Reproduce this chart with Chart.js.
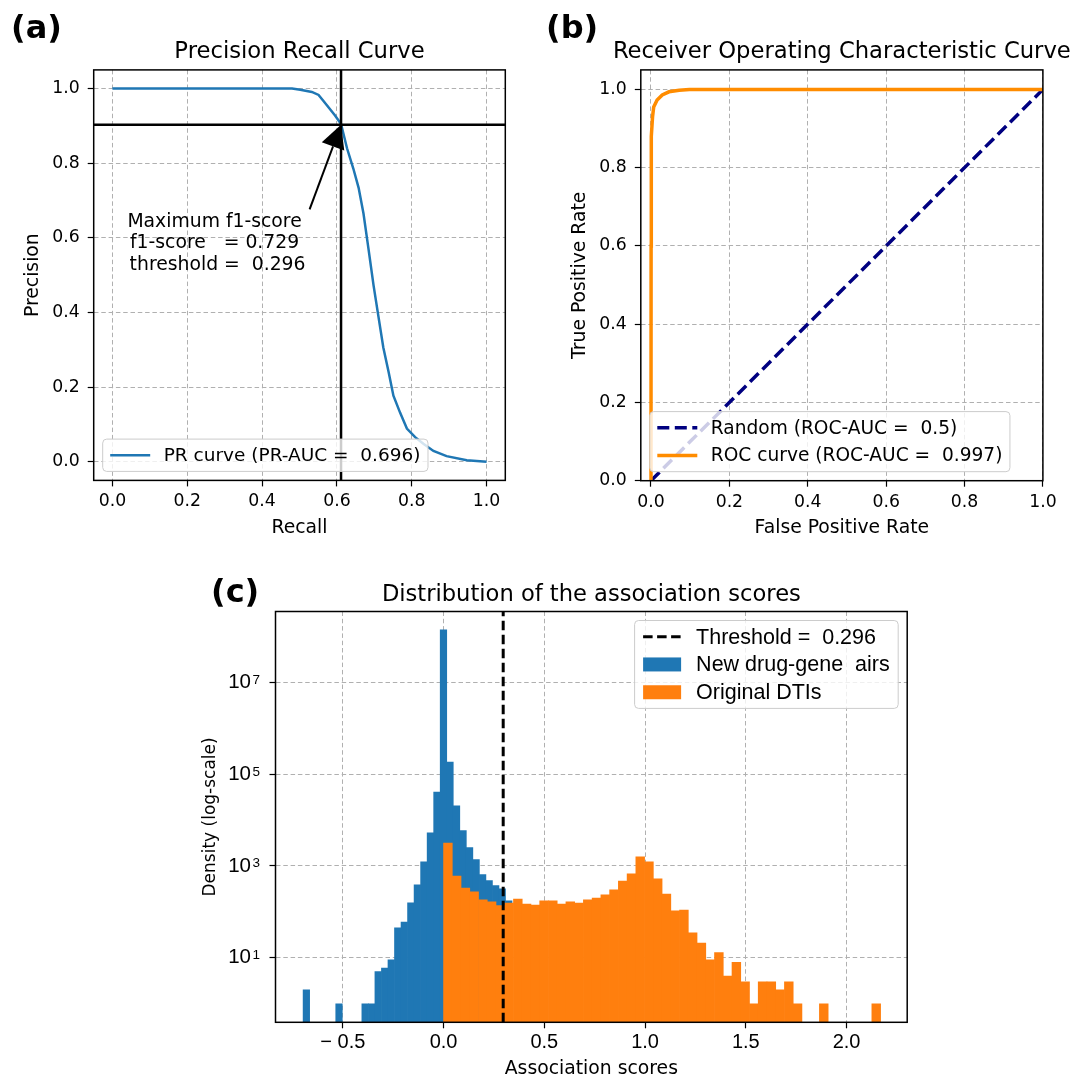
<!DOCTYPE html>
<html>
<head>
<meta charset="utf-8">
<script src="https://cdn.jsdelivr.net/npm/chart.js@4/dist/chart.umd.min.js"></script>
<style>
  html, body { margin: 0; padding: 0; background: #fff; overflow: hidden; width: 1072px; height: 1077px; }
  canvas { position: absolute; }
  .tag { position: absolute; font: bold 32px 'DejaVu Sans'; line-height: 32px; color: #000; }
</style>
</head>
<body>
<canvas id="pr" width="540" height="545" style="left:0;top:0;width:540px;height:545px"></canvas>
<canvas id="roc" width="532" height="545" style="left:540px;top:0;width:532px;height:545px"></canvas>
<canvas id="hist" width="1072" height="527" style="left:0;top:550px;width:1072px;height:527px"></canvas>
<div class="tag" style="left:11px;top:11px">(a)</div>
<div class="tag" style="left:546px;top:11px">(b)</div>
<div class="tag" style="left:211px;top:575px">(c)</div>
<script>
// (a) precision / recall
const prRecall =    [0, 0.48, 0.502, 0.533, 0.551, 0.563, 0.578, 0.595, 0.611, 0.627, 0.644, 0.658, 0.671, 0.684, 0.698, 0.711, 0.724, 0.738, 0.751, 0.769, 0.787, 0.809, 0.831, 0.858, 0.893, 0.947, 1.0];
const prPrecision = [1.0, 1.0, 0.997, 0.991, 0.983, 0.968, 0.949, 0.928, 0.905, 0.840, 0.785, 0.734, 0.665, 0.573, 0.472, 0.389, 0.306, 0.241, 0.177, 0.131, 0.089, 0.066, 0.048, 0.029, 0.015, 0.004, 0.0];
const bestRecall = 0.611;
const bestPrecision = 0.903;
const arrowTail = [0.527, 0.676];
const annotAt = [0.273, 0.644];
const annotLines = ['Maximum f1-score', 'f1-score   = 0.729', ' threshold =  0.296'];
const prAuc = '0.696';

// (b) ROC
const rocFpr = [0, 0.0003, 0.0006, 0.001, 0.004, 0.0069, 0.0156, 0.0287, 0.046, 0.072, 0.098, 1.0];
const rocTpr = [0, 0.6, 0.8, 0.88, 0.93, 0.955, 0.973, 0.986, 0.994, 0.998, 1.0, 1.0];
const randomFpr = [0, 1];
const randomTpr = [0, 1];
const rocAuc = '0.997';
const randomAuc = '0.5';

const unitTicks = [0, 0.2, 0.4, 0.6, 0.8, 1.0];
const unitLabels = ['0.0', '0.2', '0.4', '0.6', '0.8', '1.0'];

// (c) histograms
const blueStart = -0.697;
const blueWidth = 0.0324;
const blueCounts = [2, null, null, null, null, 1, null, null, null, 1, 1, 5, 6, 9, 45, 60, 158, 390, 1230, 5250, 40700, 1.38e8, 182000, 20400, 5870, 2510, 1380, 646, 479, 372, 316, 174];
const orangeStart = 0;
const orangeWidth = 0.04338;
const orangeCounts = [3160, 603, 331, 275, 182, 166, 137, 155, 191, 148, 141, 174, 174, 148, 166, 155, 182, 200, 234, 302, 468, 676, 1580, 1230, 525, 245, 105, 110, 35, 21, 9, 13, 4, 8, 3, 1, 3, 3, 2, 3, 1, null, null, 1, null, null, null, null, null, 1];
const threshold = 0.296;
const histXMin = -0.834, histXMax = 2.301;
const histYMin = 0.394, histYMax = 3.48e8;
const histXTicks = [-0.5, 0, 0.5, 1.0, 1.5, 2.0];
const histXLabels = ['\u2212 0.5', '0.0', '0.5', '1.0', '1.5', '2.0'];
const histYTicks = [10, 1e3, 1e5, 1e7];
const histYBase = ['10', '10', '10', '10'];
const histYExp = ['1', '3', '5', '7'];

Chart.defaults.font.family = "'DejaVu Sans'";
Chart.defaults.color = '#000';

function pts(xs, ys) { return xs.map((x, i) => ({x: x, y: ys[i]})); }
function bins(start, width, counts) {
  const out = [];
  counts.forEach((c, i) => { if (c !== null) out.push({x: start + width * (i + 0.5), y: c}); });
  return out;
}

function roundRect(ctx, x, y, w, h, r) {
  ctx.beginPath();
  ctx.moveTo(x + r, y);
  ctx.arcTo(x + w, y, x + w, y + h, r);
  ctx.arcTo(x + w, y + h, x, y + h, r);
  ctx.arcTo(x, y + h, x, y, r);
  ctx.arcTo(x, y, x + w, y, r);
  ctx.closePath();
}

// frame and title of each panel
const panelDeco = {
  id: 'panelDeco',
  afterDatasetsDraw(chart, args, o) {
    const {ctx, chartArea: a} = chart;
    ctx.save();
    ctx.strokeStyle = '#000';
    ctx.lineWidth = 1.5;
    ctx.strokeRect(a.left, a.top, a.right - a.left, a.bottom - a.top);
    ctx.fillStyle = '#000';
    ctx.font = o.titleSize + "px 'DejaVu Sans'";
    ctx.textAlign = 'center';
    ctx.textBaseline = 'alphabetic';
    ctx.fillText(o.title, (a.left + a.right) / 2, a.top - o.titleGap);
    ctx.restore();
  }
};

// matplotlib-like legend box
const mplLegend = {
  id: 'mplLegend',
  afterDraw(chart, args, o) {
    const {ctx, chartArea: a} = chart;
    const items = chart.data.datasets;
    ctx.save();
    ctx.font = o.textSize + 'px ' + o.family;
    const tw = Math.max(...items.map(d => ctx.measureText(d.label).width));
    const w = o.padX * 2 + o.handle + o.gap + tw;
    const h = items.length * o.rowH + o.extra;
    const x = o.loc === 'upper right' ? a.right - o.inset - w : a.left + o.inset;
    const y = o.loc === 'upper right' ? a.top + o.inset : a.bottom - o.inset - h;
    roundRect(ctx, x, y, w, h, 4);
    ctx.fillStyle = 'rgba(255,255,255,0.8)';
    ctx.fill();
    ctx.strokeStyle = '#cccccc';
    ctx.lineWidth = 1;
    ctx.stroke();
    items.forEach((d, i) => {
      const cy = y + o.extra / 2 + (i + 0.5) * o.rowH;
      const hx = x + o.padX;
      const kind = d.type || chart.config.type;
      if (kind === 'bar') {
        ctx.fillStyle = d.backgroundColor;
        ctx.fillRect(hx, cy - 7, o.handle, 14);
      } else {
        ctx.strokeStyle = d.borderColor;
        ctx.lineWidth = d.borderWidth;
        ctx.setLineDash(d.borderDash || []);
        ctx.beginPath();
        ctx.moveTo(hx, cy);
        ctx.lineTo(hx + o.handle, cy);
        ctx.stroke();
        ctx.setLineDash([]);
      }
      ctx.fillStyle = '#000';
      ctx.textAlign = 'left';
      ctx.textBaseline = 'middle';
      ctx.fillText(d.label, hx + o.handle + o.gap, cy + 1);
    });
    ctx.restore();
  }
};

// best f1 crosshair + arrow annotation
const prMarks = {
  id: 'prMarks',
  afterDatasetsDraw(chart) {
    const {ctx, chartArea: a, scales: {x, y}} = chart;
    const px = x.getPixelForValue(bestRecall), py = y.getPixelForValue(bestPrecision);
    ctx.save();
    ctx.strokeStyle = '#000';
    ctx.lineWidth = 2.5;
    ctx.beginPath();
    ctx.moveTo(px, a.top); ctx.lineTo(px, a.bottom);
    ctx.moveTo(a.left, py); ctx.lineTo(a.right, py);
    ctx.stroke();
    const tx = x.getPixelForValue(arrowTail[0]), ty = y.getPixelForValue(arrowTail[1]);
    const len = Math.hypot(px - tx, py - ty);
    const ux = (px - tx) / len, uy = (py - ty) / len;
    const bx = px - ux * 23, by = py - uy * 23;
    ctx.lineWidth = 2;
    ctx.beginPath(); ctx.moveTo(tx, ty); ctx.lineTo(bx, by); ctx.stroke();
    ctx.fillStyle = '#000';
    ctx.beginPath();
    ctx.moveTo(px, py);
    ctx.lineTo(bx - uy * 12, by + ux * 12);
    ctx.lineTo(bx + uy * 12, by - ux * 12);
    ctx.closePath();
    ctx.fill();
    ctx.font = "18.8px 'DejaVu Sans'";
    ctx.textAlign = 'center';
    ctx.textBaseline = 'middle';
    const ax = x.getPixelForValue(annotAt[0]), ay = y.getPixelForValue(annotAt[1]);
    annotLines.forEach((s, i) => ctx.fillText(s, ax, ay + 1 + i * 21.2));
    ctx.restore();
  }
};

// exponents of the log-axis tick labels
const logExp = {
  id: 'logExp',
  afterDraw(chart) {
    const {ctx, scales: {y}} = chart;
    ctx.save();
    ctx.fillStyle = '#000';
    ctx.font = "13.5px 'Liberation Sans'";
    ctx.textAlign = 'left';
    ctx.textBaseline = 'alphabetic';
    y.ticks.forEach((t, i) => {
      ctx.fillText(histYExp[i], y.right - 6 - 18.5 + 1.5, y.getPixelForValue(t.value) + 1.5);
    });
    ctx.restore();
  }
};

const gridOpts = { color: '#b0b0b0', lineWidth: 1, tickColor: '#000', tickLength: 6, tickWidth: 1.2, tickBorderDash: [], offset: false };
const borderOpts = { display: false, dash: [4.5, 2.8] };

function unitAxis(range, fit, title, titlePad, tickPad, horizontal) {
  return {
    type: 'linear', min: range[0], max: range[1], bounds: 'data', offset: false,
    afterBuildTicks: s => { s.ticks = unitTicks.map(v => ({value: v})); },
    afterFit: s => { if (horizontal) s.height = fit; else s.width = fit; },
    ticks: { callback: (v, i) => unitLabels[i], font: {size: 17.3}, padding: tickPad, autoSkip: false, maxRotation: 0 },
    grid: gridOpts, border: borderOpts,
    title: { display: true, text: title, font: {size: 18.8}, padding: titlePad }
  };
}

new Chart('pr', {
  type: 'scatter',
  data: { datasets: [{
    label: 'PR curve (PR-AUC =  ' + prAuc + ')',
    data: pts(prRecall, prPrecision),
    showLine: true, borderColor: '#1f77b4', borderWidth: 2.5, pointRadius: 0, tension: 0
  }]},
  options: {
    responsive: false, animation: false, devicePixelRatio: 1, events: [],
    layout: { padding: { left: 0, right: 34.7, top: 69.9, bottom: 5.9 } },
    scales: {
      x: unitAxis([-0.05, 1.05], 58.7, 'Recall', {top: 0, bottom: 0}, 5, true),
      y: unitAxis([-0.05, 1.05], 93.7, 'Precision', {top: 21.4, bottom: 0}, 8, false)
    },
    plugins: {
      legend: { display: false }, tooltip: { enabled: false },
      panelDeco: { title: 'Precision Recall Curve', titleSize: 22.7, titleGap: 11.5 },
      mplLegend: { loc: 'lower left', family: "'DejaVu Sans'", textSize: 18.5, padX: 7.5, handle: 40, gap: 13.5, rowH: 27.8, extra: 4.5, inset: 9 }
    }
  },
  plugins: [panelDeco, prMarks, mplLegend]
});

new Chart('roc', {
  type: 'scatter',
  data: { datasets: [
    { label: 'Random (ROC-AUC =  ' + randomAuc + ')', data: pts(randomFpr, randomTpr), showLine: true,
      borderColor: '#000080', borderWidth: 3.5, borderDash: [12, 5.5], pointRadius: 0, order: 1 },
    { label: 'ROC curve (ROC-AUC =  ' + rocAuc + ')', data: pts(rocFpr, rocTpr), showLine: true,
      borderColor: '#ff8c00', borderWidth: 3.5, pointRadius: 0, tension: 0, order: 0 }
  ]},
  options: {
    responsive: false, animation: false, devicePixelRatio: 1, events: [],
    layout: { padding: { left: 0, right: 29.1, top: 69.9, bottom: 5.9 } },
    scales: {
      x: unitAxis([-0.026, 1.0], 58.4, 'False Positive Rate', {top: 0, bottom: 0}, 5.5, true),
      y: unitAxis([0, 1.05], 100.8, 'True Positive Rate', {top: 28.7, bottom: 0}, 8, false)
    },
    plugins: {
      legend: { display: false }, tooltip: { enabled: false },
      panelDeco: { title: 'Receiver Operating Characteristic Curve', titleSize: 22.7, titleGap: 11.5 },
      mplLegend: { loc: 'lower left', family: "'DejaVu Sans'", textSize: 18.6, padX: 7.5, handle: 40, gap: 13.5, rowH: 27.8, extra: 4.5, inset: 9 }
    }
  },
  plugins: [panelDeco, mplLegend]
});

const histX = {
  type: 'linear', min: histXMin, max: histXMax, bounds: 'data', offset: false,
  afterBuildTicks: s => { s.ticks = histXTicks.map(v => ({value: v})); },
  afterFit: s => { s.height = 54.7; },
  ticks: { callback: (v, i) => histXLabels[i], font: {size: 20, family: "'Liberation Sans'"}, padding: 2.5, autoSkip: false, maxRotation: 0 },
  grid: gridOpts, border: borderOpts,
  title: { display: true, text: 'Association scores', font: {size: 18.8}, padding: {top: 0, bottom: -3.1} }
};

new Chart('hist', {
  type: 'bar',
  data: { datasets: [
    { type: 'line', label: 'Threshold =  ' + threshold, xAxisID: 'x',
      data: [{x: threshold, y: histYMin}, {x: threshold, y: histYMax}],
      borderColor: '#000', borderWidth: 3, borderDash: [9.5, 4.5], pointRadius: 0, order: 0 },
    { label: 'New drug-gene  airs', xAxisID: 'x', data: bins(blueStart, blueWidth, blueCounts),
      backgroundColor: '#1f77b4', borderWidth: 0, barPercentage: 1, categoryPercentage: 1, grouped: false, order: 2 },
    { label: 'Original DTIs', xAxisID: 'x2', data: bins(orangeStart, orangeWidth, orangeCounts),
      backgroundColor: '#ff7f0e', borderWidth: 0, barPercentage: 1, categoryPercentage: 1, grouped: false, order: 1 }
  ]},
  options: {
    responsive: false, animation: false, devicePixelRatio: 1, events: [],
    layout: { padding: { left: 190, right: 164.8, top: 61.5, bottom: 0 } },
    scales: {
      x: histX,
      x2: { type: 'linear', axis: 'x', display: false, min: histXMin, max: histXMax, bounds: 'data', offset: false, grid: { offset: false } },
      y: {
        type: 'logarithmic', min: histYMin, max: histYMax, bounds: 'data',
        afterBuildTicks: s => { s.ticks = histYTicks.map(v => ({value: v})); },
        afterFit: s => { s.width = 85.5; },
        ticks: { callback: (v, i) => histYBase[i], font: {size: 20.5, family: "'Liberation Sans'"}, padding: 18.5, autoSkip: false },
        grid: gridOpts, border: borderOpts,
        title: { display: true, text: 'Density (log-scale)', font: {size: 17}, padding: {top: 10.3, bottom: 0} }
      }
    },
    plugins: {
      legend: { display: false }, tooltip: { enabled: false },
      panelDeco: { title: 'Distribution of the association scores', titleSize: 22.6, titleGap: 10.5 },
      mplLegend: { loc: 'upper right', family: "'Liberation Sans'", textSize: 21.5, padX: 8.5, handle: 38, gap: 15, rowH: 27.8, extra: 4.5, inset: 9 }
    }
  },
  plugins: [panelDeco, logExp, mplLegend]
});
</script>
</body>
</html>
